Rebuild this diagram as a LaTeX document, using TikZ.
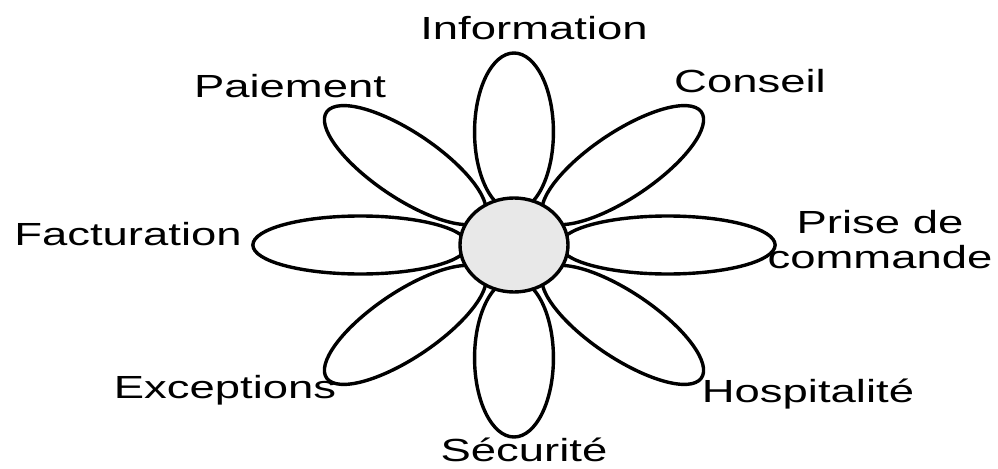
\documentclass[tikz,border=0pt]{standalone}
\usepackage{fontspec}
\setmainfont{Liberation Sans}
\usepackage{graphicx}
\usetikzlibrary{shapes.geometric}

% the source is stretched sideways, text too
\newcommand{\wide}[1]{\scalebox{1.42}[1]{#1}}

\begin{document}
\begin{tikzpicture}[
    x=0.5pt, y=0.5pt,
    petal/.style={draw, line width=1.7pt, fill=white},
    disc/.style={draw, ellipse, line width=1.7pt, fill=gray!18,
                 minimum width=54pt, minimum height=47pt, inner sep=0pt},
    lbl/.style={anchor=base, inner sep=0pt,
                font=\fontsize{16}{17.5}\selectfont}
  ]
  \useasboundingbox (0,0) rectangle (998,468);
  \coordinate (ctr) at (514,223);

  % petals, drawn so that each overlaps the right neighbour
  \begin{scope}[shift={(ctr)}, xscale=1.36]
    \foreach \a in {135,225,180,90,270,45,0,315}
      \draw[petal, rotate=\a] (113,0) ellipse (79 and 29);
  \end{scope}
  \node[disc] (heart) at (ctr) {};

  \node[lbl] (info)  at (534,429) {\wide{Information}};
  \node[lbl] (paie)  at (290,371) {\wide{Paiement}};
  \node[lbl] (cons)  at (750,376) {\wide{Conseil}};
  \node[lbl] (fact)  at (128,223) {\wide{Facturation}};
  \node[lbl] (prise) at (880,200)
    {\wide{\begin{tabular}[b]{@{}c@{}}Prise de\\commande\end{tabular}}};
  \node[lbl] (exc)   at (225,70)  {\wide{Exceptions}};
  \node[lbl] (hosp)  at (808,66)  {\wide{Hospitalité}};
  \node[lbl] (secu)  at (524,7)   {\wide{Sécurité}};
\end{tikzpicture}
\end{document}
